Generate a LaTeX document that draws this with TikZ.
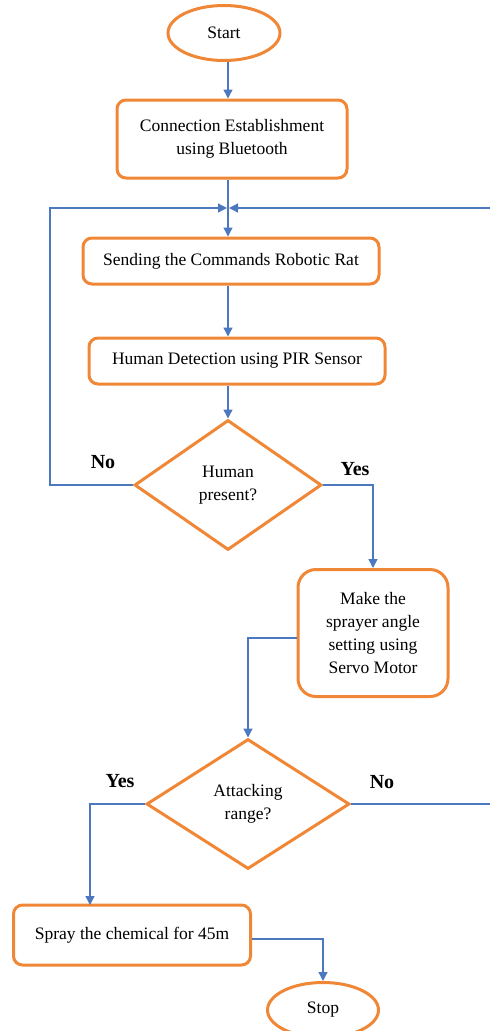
\documentclass[tikz,border=0pt]{standalone}
\usepackage{fontspec}
\setmainfont{Liberation Serif}
\usetikzlibrary{shapes.geometric,arrows.meta}
\definecolor{boxorange}{RGB}{240,135,55}
\definecolor{lineblue}{RGB}{75,120,190}
\tikzset{
  box/.style={draw=boxorange, line width=3pt, rounded corners=9pt, align=center, inner sep=0pt, font=\fontsize{17.5}{22.7}\selectfont},
  term/.style={draw=boxorange, line width=3pt, ellipse, inner sep=0pt, font=\fontsize{17.5}{20}\selectfont},
  dec/.style={draw=boxorange, line width=3pt, diamond, inner sep=0pt, align=center, font=\fontsize{17.5}{22.7}\selectfont},
  conn/.style={draw=lineblue, line width=1.3pt},
  arr/.style={conn, -{Triangle[length=9pt,width=9pt]}},
  lab/.style={font=\fontsize{20}{22}\selectfont\bfseries},
}
\begin{document}
\begin{tikzpicture}[x=1pt,y=-1pt]
\useasboundingbox (0,0) rectangle (490,1031);
\node[term, minimum width=112pt, minimum height=55pt] (start) at (224,33) {Start};
\node[box, minimum width=230pt, minimum height=78pt] (cnx) at (232,139) {Connection Establishment\\using Bluetooth};
\node[box, minimum width=296pt, minimum height=46pt] (send) at (231,261) {Sending the Commands Robotic Rat};
\node[box, minimum width=296pt, minimum height=46pt] (pir) at (237,361) {Human Detection using PIR Sensor};
\node[dec, minimum width=187pt, minimum height=130pt] (hp) at (228,485) {Human\\present?};
\node[box, rounded corners=18pt, minimum width=150pt, minimum height=127pt] (servo) at (373,633) {Make the\\sprayer angle\\setting using\\Servo Motor};
\node[dec, minimum width=203pt, minimum height=130pt] (ar) at (248,804) {Attacking\\range?};
\node[box, minimum width=237pt, minimum height=60pt] (spray) at (132,935) {Spray the chemical for 45m};
\node[term, minimum width=111pt, minimum height=55pt] (stop) at (323,1010) {Stop};
\coordinate (j) at (228,208);
\coordinate (lx) at (50,208);
\coordinate (rx) at (493,208);
\node[lab] (no1) at (103,462) {No};
\node[lab] (yes1) at (355,469) {Yes};
\node[lab] (yes2) at (120,781) {Yes};
\node[lab] (no2) at (382,782) {No};
\draw[arr] (j |- start.south) -- (j |- cnx.north);
\draw[arr] (j |- cnx.south) -- (j |- send.north);
\draw[arr] (j |- send.south) -- (j |- pir.north);
\draw[arr] (j |- pir.south) -- (hp.north);
\draw[arr] (hp.west) -| (lx) -- ([xshift=-1pt]j);
\draw[arr] (hp.east) -| (servo.north);
\draw[arr] ([yshift=-5pt]servo.west) -| (ar.north);
\draw[arr] (ar.west) -| (90,905);
\draw[arr] (ar.east) -| (rx) -- ([xshift=1pt]j);
\draw[arr] ([yshift=-4pt]spray.east) -| (stop.north);
\end{tikzpicture}
\end{document}
